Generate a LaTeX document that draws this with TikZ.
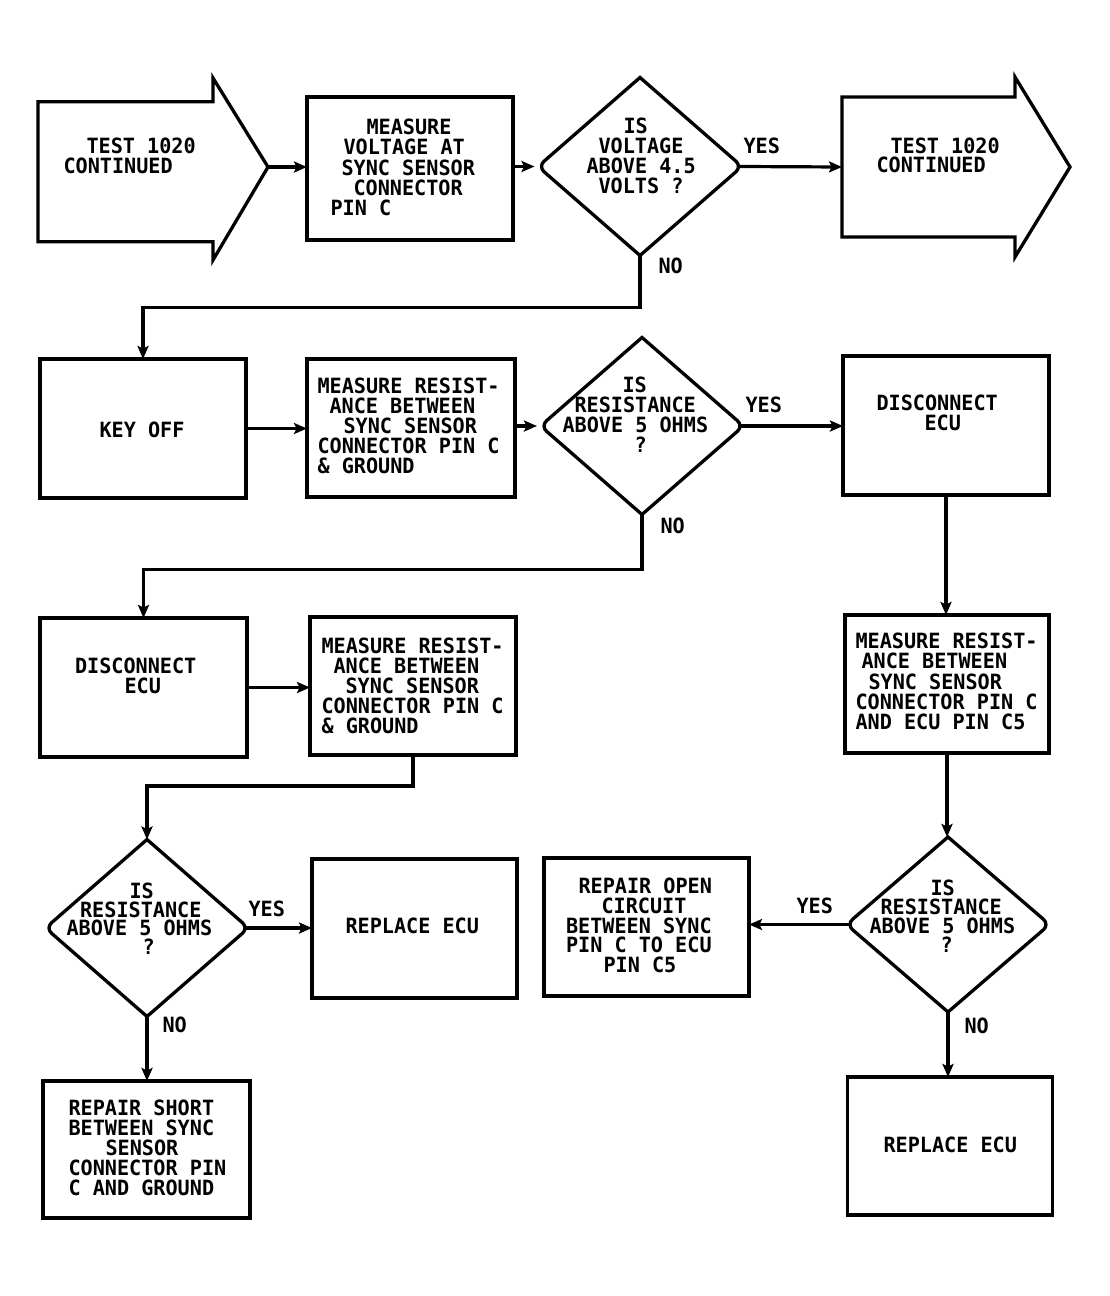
\documentclass[tikz,border=0pt]{standalone}
\usepackage{fontspec}
\newfontfamily\plotfont{DejaVu Sans Mono}[FakeStretch=0.96]
\usetikzlibrary{arrows.meta,shapes.geometric,calc}
\newcommand\indt[1]{\hspace*{#1pt}}
\newcommand\diamondoutline[1]{%
  \draw[line width=3.3pt]
    ($(#1.north)!0.5!(#1.east)$) [rounded corners=8pt] -- (#1.east) --
    ($(#1.east)!0.5!(#1.south)$) [sharp corners] -- (#1.south) --
    ($(#1.south)!0.5!(#1.west)$) [rounded corners=8pt] -- (#1.west) --
    ($(#1.west)!0.5!(#1.north)$) [sharp corners] -- (#1.north) -- cycle;}
\begin{document}
\begin{tikzpicture}[x=1pt,y=-1pt,
  flowbox/.style={draw, line width=3.3pt, rectangle, inner sep=0pt, outer sep=0pt},
  decision/.style={shape=diamond, inner sep=0pt, outer sep=0pt},
  conn/.style={line width=3.2pt, -{Stealth[length=13pt,width=11pt,inset=2.5pt]}},
  outline/.style={line width=3.3pt, line join=miter},
  lbl/.style={anchor=north west, inner sep=0pt, outer sep=0pt, align=left,
    font=\plotfont\bfseries\fontsize{21}{#1}\selectfont},
  lbl/.default=20]
\useasboundingbox[fill=white] (0,0) rectangle (1109,1296);

% ---------- row 1 ----------
\draw[outline] (38,101.7) -- (213,101.7) -- (213,78) -- (268,167) -- (213,260) -- (213,241.7) -- (38,241.7) -- cycle;
\coordinate (a1tip) at (268,167);
\node[lbl] (ta1) at (63.5,138) {\indt{23}TEST 1020\\CONTINUED};

\node[flowbox, minimum width=206pt, minimum height=143pt] (b1) at (410,168.5) {};
\node[lbl=20.3] (tb1) at (330.5,119) {\indt{36}MEASURE\\\indt{13}VOLTAGE AT\\\indt{11}SYNC SENSOR\\\indt{23}CONNECTOR\\PIN C};

\node[decision, minimum width=204pt, minimum height=178pt] (d1) at (640,166.5) {};
\diamondoutline{d1}
\node[lbl] (td1) at (586.5,118) {\indt{37}IS\\\indt{12}VOLTAGE\\ABOVE 4.5\\\indt{12}VOLTS ?};
\node[lbl] (yes1) at (743.5,138) {YES};
\node[lbl] (no1) at (658.5,258) {NO};

\draw[outline] (842,97) -- (1015,97) -- (1015,77) -- (1070,167) -- (1015,257) -- (1015,237) -- (842,237) -- cycle;
\coordinate (a2in) at (842,167);
\node[lbl=19] (ta2) at (876.5,138) {\indt{14}TEST 1020\\CONTINUED};

% ---------- row 2 ----------
\node[flowbox, minimum width=206pt, minimum height=139pt] (k) at (143,428.5) {};
\node[lbl] (tk) at (99.5,422) {KEY OFF};

\node[flowbox, minimum width=208pt, minimum height=138pt] (b2) at (411,428) {};
\node[lbl] (tb2) at (317.5,378) {MEASURE RESIST-\\\indt{12}ANCE BETWEEN\\\indt{26}SYNC SENSOR\\CONNECTOR PIN C\\\& GROUND};

\node[decision, minimum width=203pt, minimum height=177pt] (d2) at (642,426) {};
\diamondoutline{d2}
\node[lbl] (td2) at (562.5,376.5) {\indt{60}IS\\\indt{12}RESISTANCE\\ABOVE 5 OHMS\\\indt{72}?};
\node[lbl] (yes2) at (745.5,397) {YES};
\node[lbl] (no2) at (660.5,518) {NO};

\node[flowbox, minimum width=206pt, minimum height=139pt] (r2) at (946,425.5) {};
\node[lbl] (tr2) at (876.5,395) {DISCONNECT\\\indt{48}ECU};

% ---------- row 3 ----------
\node[flowbox, minimum width=207pt, minimum height=139pt] (l3) at (143.5,687.5) {};
\node[lbl=19.5] (tl3) at (75,658) {DISCONNECT\\\indt{49.5}ECU};

\node[flowbox, minimum width=206pt, minimum height=138pt] (b3) at (413,686) {};
\node[lbl] (tb3) at (321.5,638) {MEASURE RESIST-\\\indt{12}ANCE BETWEEN\\\indt{24}SYNC SENSOR\\CONNECTOR PIN C\\\& GROUND};

\node[flowbox, minimum width=204pt, minimum height=138pt] (r3) at (947,684) {};
\node[lbl=20.3] (tr3) at (855.5,633) {MEASURE RESIST-\\\indt{6}ANCE BETWEEN\\\indt{13}SYNC SENSOR\\CONNECTOR PIN C\\AND ECU PIN C5};

% ---------- row 4 ----------
\node[decision, minimum width=203pt, minimum height=177pt] (d3) at (147,928) {};
\diamondoutline{d3}
\node[lbl=18.7] (td3) at (66.5,883) {\indt{63}IS\\\indt{13.6}RESISTANCE\\ABOVE 5 OHMS\\\indt{76}?};
\node[lbl] (yes3) at (248.5,901) {YES};
\node[lbl] (no3) at (162.5,1017) {NO};

\node[flowbox, minimum width=205pt, minimum height=139pt] (l4) at (414.5,928.5) {};
\node[lbl] (tl4) at (345.5,918) {REPLACE ECU};

\node[flowbox, minimum width=205pt, minimum height=138pt] (ro) at (646.5,927) {};
\node[lbl=19.8] (tro) at (566,878) {\indt{12.5}REPAIR OPEN\\\indt{35.5}CIRCUIT\\BETWEEN SYNC\\PIN C TO ECU\\\indt{37.5}PIN C5};

\node[decision, minimum width=203pt, minimum height=175pt] (d4) at (948,924.5) {};
\diamondoutline{d4}
\node[lbl=19] (td4) at (869.5,880) {\indt{61}IS\\\indt{11}RESISTANCE\\ABOVE 5 OHMS\\\indt{71}?};
\node[lbl] (yes4) at (796.5,898) {YES};
\node[lbl] (no4) at (964.5,1018) {NO};

% ---------- row 5 ----------
\node[flowbox, minimum width=207pt, minimum height=137pt] (l5) at (146.5,1149.5) {};
\node[lbl] (tl5) at (68.5,1100) {REPAIR SHORT\\BETWEEN SYNC\\\indt{37}SENSOR\\CONNECTOR PIN\\C AND GROUND};

\node[flowbox, minimum width=205pt, minimum height=138pt] (r5) at (950,1146) {};
\node[lbl] (tr5) at (883.5,1137) {REPLACE ECU};

% ---------- connectors ----------
\draw[conn] (a1tip) -- (a1tip -| b1.west);
\draw[conn, shorten >=3.5pt] (d1.west -| b1.east) -- (d1.west);
\draw[conn, shorten <=-3.5pt] (d1.east) -- (a2in);
\draw[conn] (d1.south) -- ++(0,52) -| (k.north);
\draw[conn] (k.east) -- (k.east -| b2.west);
\draw[conn, shorten >=3.5pt] (b2.east |- d2.west) -- (d2.west);
\draw[conn, shorten <=-3.5pt] (d2.east) -- (d2.east -| r2.west);
\draw[conn] (d2.south) -- ++(0,55) -| (l3.north);
\draw[conn] (r2.south) -- (r2.south |- r3.north);
\draw[conn] (l3.east) -- (l3.east -| b3.west);
\draw[conn] (b3.south) -- ++(0,31) -| (d3.north);
\draw[conn, shorten <=-3.5pt] (d3.east) -- (d3.east -| l4.west);
\draw[conn] (d3.south) -- (d3.south |- l5.north);
\draw[conn] (r3.south) -- (r3.south |- d4.north);
\draw[conn, shorten <=-3.5pt] (d4.west) -- (d4.west -| ro.east);
\draw[conn] (d4.south) -- (d4.south |- r5.north);
\end{tikzpicture}
\end{document}
